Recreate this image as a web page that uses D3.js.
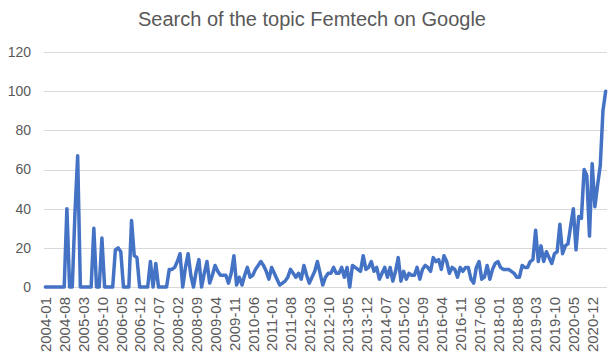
<!DOCTYPE html>
<html>
<head>
<meta charset="utf-8">
<script src="https://cdn.jsdelivr.net/npm/d3@7"></script>
<style>
  body { margin: 0; background: #fff; }
  text { font-family: "Liberation Sans", Arial, sans-serif; fill: #595959; }
</style>
</head>
<body>
<svg id="chart"></svg>
<script>
const width = 614;
const height = 362;
const margin = {top: 52, right: 7, bottom: 75, left: 44};

const title = 'Search of the topic Femtech on Google';

// Google Trends interest, monthly from 2004-01
const startMonth = '2004-01';
const values = [
  0, 0, 0, 0, 0, 0, 0, 0,
  40, 0, 0, 38, 67, 0, 0, 0,
  0, 0, 30, 0, 0, 25, 0, 0,
  0, 0, 19, 20, 18, 0, 0, 0,
  34, 16, 15, 0, 0, 0, 0, 13,
  0, 12, 0, 0, 0, 0, 9, 9,
  10, 13, 17, 0, 10, 17, 6, 0,
  8, 14, 0, 7, 13, 2, 6, 11,
  8, 6, 6, 6, 2, 7, 16, 1,
  5, 1, 6, 10, 5, 6, 9, 11,
  13, 11, 8, 4, 10, 7, 4, 1,
  2, 3, 5, 9, 7, 5, 7, 4,
  11, 6, 2, 5, 8, 13, 7, 1,
  5, 7, 7, 10, 7, 7, 10, 5,
  10, 0, 11, 10, 9, 8, 16, 9,
  10, 13, 8, 10, 4, 7, 10, 5,
  10, 3, 8, 15, 3, 8, 4, 7,
  6, 6, 10, 4, 9, 11, 10, 8,
  15, 13, 14, 9, 16, 13, 7, 10,
  9, 5, 10, 8, 10, 10, 4, 2,
  10, 13, 4, 5, 11, 4, 9, 12,
  13, 10, 9, 9, 9, 8, 7, 5,
  5, 11, 10, 10, 13, 14, 29, 13,
  21, 13, 18, 15, 12, 17, 18, 32,
  17, 21, 22, 31, 40, 19, 36, 35,
  60, 57, 26, 63, 41, 52, 62, 90,
  100
];

const xTickLabels = [
  '2004-01', '2004-08', '2005-03', '2005-10', '2006-05', '2006-12', '2007-07',
  '2008-02', '2008-09', '2009-04', '2009-11', '2010-06', '2011-01', '2011-08',
  '2012-03', '2012-10', '2013-05', '2013-12', '2014-07', '2015-02', '2015-09',
  '2016-04', '2016-11', '2017-06', '2018-01', '2018-08', '2019-03', '2019-10',
  '2020-05', '2020-12'
];
const yTicks = [0, 20, 40, 60, 80, 100, 120];

const fmt = d3.timeFormat('%Y-%m');
const start = d3.timeParse('%Y-%m')(startMonth);
const months = values.map((v, i) => fmt(d3.timeMonth.offset(start, i)));
const data = months.map((m, i) => ({month: m, value: values[i]}));

const svg = d3.select('#chart')
  .attr('width', width)
  .attr('height', height);

svg.append('rect').attr('width', width).attr('height', height).attr('fill', '#fff');

const x = d3.scalePoint()
  .domain(months)
  .range([margin.left, width - margin.right])
  .padding(0.5);

const y = d3.scaleLinear()
  .domain([0, 120])
  .range([height - margin.bottom, margin.top]);

svg.append('text')
  .attr('x', 312)
  .attr('y', 26)
  .attr('text-anchor', 'middle')
  .style('font-size', '20px')
  .text(title);

// gridlines
svg.append('g')
  .selectAll('line')
  .data(yTicks)
  .enter()
  .append('line')
  .attr('x1', margin.left)
  .attr('x2', width - margin.right)
  .attr('y1', d => Math.round(y(d)) + 0.5)
  .attr('y2', d => Math.round(y(d)) + 0.5)
  .attr('stroke', '#d9d9d9')
  .attr('stroke-width', 1);

const yAxis = svg.append('g')
  .attr('transform', `translate(${margin.left - 13}, 0)`)
  .call(d3.axisLeft(y).tickValues(yTicks).tickSize(0).tickPadding(0));
yAxis.select('.domain').remove();
yAxis.selectAll('text').style('font-size', '14px').attr('fill', '#595959');

const xAxis = svg.append('g')
  .attr('transform', `translate(0, ${height - margin.bottom})`)
  .call(d3.axisBottom(x).tickValues(xTickLabels).tickSize(0));
xAxis.select('.domain').remove();
xAxis.selectAll('text')
  .style('font-size', '15px')
  .attr('fill', '#595959')
  .attr('text-anchor', 'end')
  .attr('transform', 'rotate(-90)')
  .attr('x', -10)
  .attr('y', 0)
  .attr('dy', '0.35em');

svg.append('path')
  .datum(data)
  .attr('fill', 'none')
  .attr('stroke', '#4472C4')
  .attr('stroke-width', 3.5)
  .attr('stroke-linejoin', 'round')
  .attr('stroke-linecap', 'round')
  .attr('d', d3.line()
    .x(d => x(d.month))
    .y(d => y(d.value))
  );
</script>
</body>
</html>
